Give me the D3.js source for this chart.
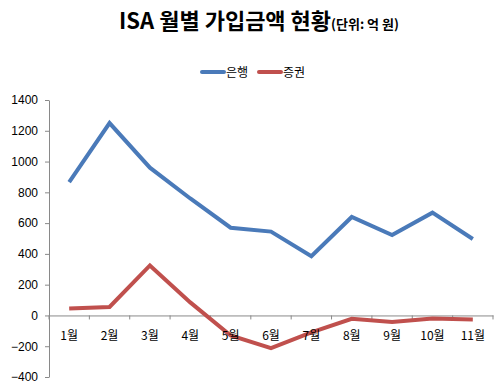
<!DOCTYPE html>
<html>
<head>
<meta charset="utf-8">
<script src="https://cdn.jsdelivr.net/npm/d3@7"></script>
<style>
  body { margin: 0; background: #fff; }
  svg { display: block; }
  .axis path, .axis line { stroke: #898989; }
  .axis text { font-family: "Liberation Sans", Arial, sans-serif; font-size: 12px; fill: #000; }
  .xlab { font-family: "Noto Sans CJK KR", sans-serif; font-size: 12px; fill: #000; }
</style>
</head>
<body>
<svg id="chart" width="500" height="386"></svg>
<script>
const width = 500;
const height = 386;

const months = ["1월", "2월", "3월", "4월", "5월", "6월", "7월", "8월", "9월", "10월", "11월"];
const bank = [866, 1250, 960, 760, 570, 545, 385, 640, 522, 668, 497];
const securities = [45, 55, 325, 85, -130, -212, -110, -22, -42, -20, -26];
const yTicks = [1400, 1200, 1000, 800, 600, 400, 200, 0, -200, -400];

const seriesNames = ["은행", "증권"];
const colors = ["#4a7ab9", "#c0504d"];

const margin = { top: 100, bottom: 9, left: 49, right: 7 };

const svg = d3.select("svg#chart");

/* SCALES */
const x = d3.scaleBand()
  .domain(months)
  .range([margin.left, width - margin.right])
  .padding(0);

const y = d3.scaleLinear()
  .domain([-400, 1400])
  .range([height - margin.bottom, margin.top]);

/* AXES */
const yAxis = d3.axisLeft(y)
  .tickValues(yTicks)
  .tickFormat(d3.format("d"))
  .tickSize(4)
  .tickSizeOuter(0)
  .tickPadding(7);
svg.append("g").attr("class", "axis")
  .attr("transform", "translate(" + margin.left + ",0)")
  .call(yAxis);

const xAxis = d3.axisBottom(x).tickSize(0).tickFormat("");
const xGroup = svg.append("g").attr("class", "axis")
  .attr("transform", "translate(0," + y(0) + ")")
  .call(xAxis);

// tick marks between categories
const bounds = months.map(m => x(m)).concat([x.range()[1]]);
xGroup.selectAll("line.sep")
  .data(bounds)
  .enter()
  .append("line")
  .attr("class", "sep")
  .attr("x1", d => d).attr("x2", d => d)
  .attr("y1", 0).attr("y2", 4);

/* LINES */
const line = d3.line()
  .x((d, i) => x(months[i]) + x.bandwidth() / 2)
  .y(d => y(d));

[bank, securities].forEach((data, i) => {
  svg.append("path")
    .datum(data)
    .attr("fill", "none")
    .attr("stroke", colors[i])
    .attr("stroke-width", 4)
    .attr("stroke-linejoin", "miter")
    .attr("d", line);
});

/* X LABELS (drawn over lines like the original) */
svg.append("g").selectAll("text")
  .data(months)
  .enter()
  .append("text")
  .attr("class", "xlab")
  .attr("x", d => x(d) + x.bandwidth() / 2)
  .attr("y", y(0) + 25)
  .attr("text-anchor", "middle")
  .text(d => d);

/* TITLE */
const title = svg.append("text")
  .attr("x", 259)
  .attr("y", 29)
  .attr("text-anchor", "middle")
  .style("font-family", "'Noto Sans CJK KR', sans-serif")
  .style("font-weight", "bold");
title.append("tspan").style("font-size", "22px").text("ISA 월별 가입금액 현황");
title.append("tspan").style("font-size", "13px").text("(단위: 억 원)");

/* LEGEND */
const legend = svg.append("g").attr("transform", "translate(202,72)");
seriesNames.forEach((name, i) => {
  const g = legend.append("g").attr("transform", "translate(" + (i * 57) + ",0)");
  g.append("line")
    .attr("x1", 0).attr("x2", 22)
    .attr("y1", 0).attr("y2", 0)
    .attr("stroke", colors[i])
    .attr("stroke-width", 4)
    .attr("stroke-linecap", "round");
  g.append("text")
    .attr("x", 24)
    .attr("y", 5)
    .style("font-family", "'Noto Sans CJK KR', sans-serif")
    .style("font-size", "12px")
    .text(name);
});
</script>
</body>
</html>
